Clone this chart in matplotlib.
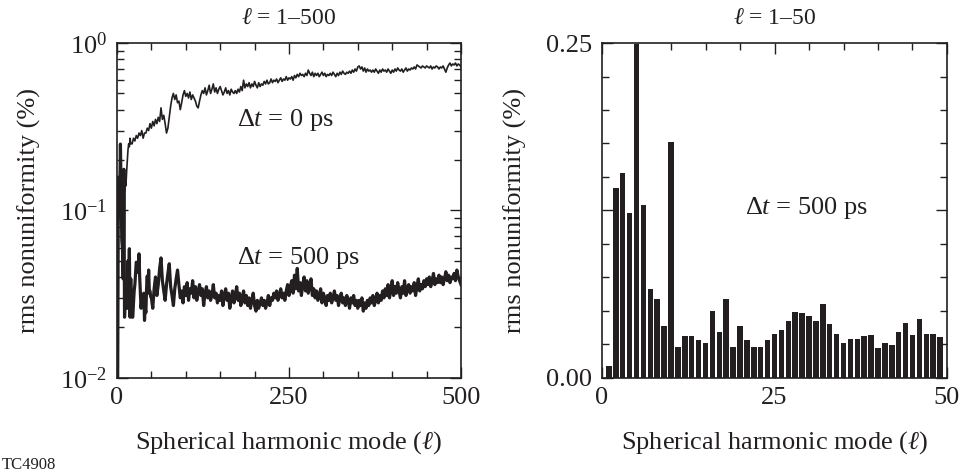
import numpy as np
import matplotlib
matplotlib.use("Agg")
import matplotlib.pyplot as plt
from matplotlib.ticker import MultipleLocator, FixedLocator, FixedFormatter

plt.rcParams['font.family'] = ['Liberation Serif', 'DejaVu Serif']
plt.rcParams['mathtext.fontset'] = 'custom'
plt.rcParams['mathtext.rm'] = 'Liberation Serif'
plt.rcParams['mathtext.it'] = 'Liberation Serif:italic'

INK = '#231f20'

# Delta t = 500 ps, modes l = 1..49 (also the first part of the left-hand curve)
bar_modes = list(range(1, 50))
rms_500_low = [0.009, 0.142, 0.153, 0.123, 0.249, 0.129, 0.066, 0.059, 0.039, 0.176,
               0.023, 0.031, 0.031, 0.028, 0.026, 0.050, 0.034, 0.059, 0.023, 0.039,
               0.028, 0.023, 0.023, 0.028, 0.033, 0.036, 0.042, 0.049, 0.0485, 0.046,
               0.0425, 0.055, 0.040, 0.0325, 0.026, 0.029, 0.029, 0.031, 0.032, 0.022,
               0.026, 0.0245, 0.034, 0.0405, 0.032, 0.044, 0.033, 0.033, 0.0305]

# Delta t = 500 ps, modes l = 50..500 every 2
rms_500_high = [0.030, 0.026, 0.034, 0.040, 0.031, 0.036, 0.045, 0.052, 0.038, 0.033,
                0.029, 0.036, 0.042, 0.048, 0.035, 0.031, 0.027, 0.034, 0.039, 0.044,
                0.036, 0.030, 0.033, 0.028, 0.035, 0.031, 0.037, 0.029, 0.034, 0.032,
                0.038, 0.030, 0.035, 0.029, 0.033, 0.036, 0.031, 0.034, 0.027, 0.032,
                0.035, 0.030, 0.033, 0.029, 0.031, 0.036, 0.030, 0.032, 0.028, 0.031,
                0.029, 0.033, 0.027, 0.031, 0.034, 0.029, 0.032, 0.026, 0.030, 0.033,
                0.028, 0.031, 0.035, 0.029, 0.032, 0.027, 0.030, 0.033, 0.028, 0.031,
                0.027, 0.030, 0.026, 0.029, 0.032, 0.027, 0.025, 0.029, 0.026, 0.028,
                0.030, 0.027, 0.029, 0.026, 0.028, 0.031, 0.027, 0.030, 0.029, 0.032,
                0.030, 0.033, 0.029, 0.031, 0.034, 0.030, 0.032, 0.029, 0.033, 0.036,
                0.031, 0.035, 0.038, 0.032, 0.041, 0.034, 0.045, 0.033, 0.037, 0.031,
                0.036, 0.040, 0.033, 0.038, 0.032, 0.035, 0.039, 0.031, 0.034, 0.030,
                0.033, 0.029, 0.031, 0.034, 0.028, 0.032, 0.030, 0.027, 0.031, 0.029,
                0.032, 0.028, 0.030, 0.033, 0.029, 0.031, 0.027, 0.030, 0.032, 0.028,
                0.030, 0.027, 0.031, 0.029, 0.026, 0.030, 0.028, 0.031, 0.027, 0.029,
                0.026, 0.029, 0.027, 0.030, 0.025, 0.028, 0.026, 0.029, 0.027, 0.030,
                0.028, 0.031, 0.027, 0.029, 0.032, 0.028, 0.031, 0.029, 0.033, 0.030,
                0.034, 0.031, 0.036, 0.030, 0.033, 0.038, 0.031, 0.035, 0.032, 0.037,
                0.033, 0.030, 0.035, 0.032, 0.038, 0.031, 0.034, 0.036, 0.032, 0.035,
                0.033, 0.037, 0.031, 0.035, 0.039, 0.033, 0.036, 0.034, 0.038, 0.035,
                0.039, 0.036, 0.040, 0.035, 0.038, 0.042, 0.036, 0.039, 0.037, 0.041,
                0.037, 0.040, 0.036, 0.039, 0.043, 0.038, 0.041, 0.037, 0.040, 0.039,
                0.042, 0.038, 0.044, 0.040, 0.038, 0.036]

# Delta t = 0 ps, modes l = 1..20, then 22..500 every 2
rms_0_low = [0.013, 0.16, 0.11, 0.15, 0.10, 0.17, 0.12, 0.14, 0.11, 0.15,
             0.13, 0.16, 0.14, 0.17, 0.20, 0.23, 0.25, 0.24, 0.27, 0.25]
rms_0_high = [0.25, 0.27, 0.26, 0.28, 0.27, 0.29, 0.28, 0.30, 0.27, 0.29,
              0.29, 0.31, 0.30, 0.33, 0.31, 0.34, 0.32, 0.35,
              0.33, 0.36, 0.34, 0.41, 0.35, 0.37, 0.33,
              0.29, 0.31, 0.36, 0.42, 0.47, 0.50, 0.46, 0.49, 0.44, 0.45,
              0.40, 0.44, 0.49, 0.52, 0.48, 0.50, 0.47, 0.51, 0.46, 0.49,
              0.47, 0.45, 0.42, 0.41, 0.45, 0.49, 0.52, 0.50, 0.54, 0.49,
              0.52, 0.56, 0.50, 0.53, 0.57, 0.51, 0.54, 0.50, 0.53, 0.55,
              0.52, 0.49, 0.51, 0.54, 0.50, 0.52, 0.49, 0.53, 0.51, 0.50,
              0.52, 0.50, 0.53, 0.51, 0.55, 0.52, 0.60, 0.54, 0.57, 0.55,
              0.58, 0.54, 0.57, 0.55, 0.59, 0.56, 0.54, 0.58, 0.55, 0.57,
              0.56, 0.59, 0.57, 0.60, 0.57, 0.58, 0.61, 0.58, 0.60, 0.59,
              0.61, 0.58, 0.60, 0.62, 0.59, 0.61, 0.60, 0.63, 0.60, 0.62,
              0.61, 0.63, 0.60, 0.64, 0.62, 0.65, 0.63, 0.66, 0.64, 0.65,
              0.63, 0.66, 0.64, 0.69, 0.66, 0.64, 0.67, 0.63, 0.66, 0.64,
              0.66, 0.63, 0.65, 0.67, 0.64, 0.66, 0.63, 0.65, 0.64, 0.66,
              0.64, 0.67, 0.65, 0.63, 0.66, 0.64, 0.67, 0.65, 0.68, 0.66,
              0.65, 0.67, 0.66, 0.68, 0.66, 0.69, 0.67, 0.70, 0.68, 0.72,
              0.73, 0.70, 0.72, 0.68, 0.71, 0.67, 0.70, 0.68, 0.69, 0.67,
              0.69, 0.67, 0.70, 0.68, 0.66, 0.69, 0.67, 0.70, 0.68, 0.69,
              0.67, 0.70, 0.68, 0.66, 0.69, 0.67, 0.70, 0.68, 0.71, 0.69,
              0.68, 0.70, 0.67, 0.69, 0.71, 0.68, 0.70, 0.69, 0.71, 0.70,
              0.72, 0.70, 0.74, 0.73, 0.72, 0.71, 0.73, 0.72, 0.71, 0.73,
              0.72, 0.71, 0.73, 0.70, 0.72, 0.71, 0.73, 0.72, 0.70, 0.72,
              0.71, 0.73, 0.70, 0.67, 0.71, 0.74, 0.76, 0.73, 0.75, 0.74,
              0.76, 0.73, 0.75, 0.74, 0.72]

l_500 = np.concatenate([bar_modes, np.arange(50, 501, 2)])
v_500 = np.array(rms_500_low + rms_500_high)
l_0 = np.concatenate([np.arange(1, 21), np.arange(22, 501, 2)])
v_0 = np.array(rms_0_low + rms_0_high)

TICK_FS = 19
LABEL_FS = 19


def style_axes(ax):
    ax.tick_params(which='both', direction='in', top=True, right=True,
                   labelsize=TICK_FS, colors=INK, width=1.0, pad=7)
    ax.tick_params(which='major', length=8)
    ax.tick_params(which='minor', length=5)
    for s in ax.spines.values():
        s.set_linewidth(1.2)
        s.set_color(INK)


fig = plt.figure(figsize=(9.62, 4.76), dpi=100)

# left: log plot
ax1 = fig.add_axes([0.1216, 0.2065, 0.3576, 0.703])
ax1.plot(l_0, v_0, color=INK, lw=1.2)
ax1.plot(l_500, v_500, color=INK, lw=2.3)
ax1.set_yscale('log')
ax1.set_xlim(0, 500)
ax1.set_ylim(0.01, 1.0)
ax1.xaxis.set_major_locator(MultipleLocator(250))
ax1.xaxis.set_minor_locator(MultipleLocator(50))
style_axes(ax1)
ax1.set_title(r'$\ell$ = 1–500', fontsize=17, pad=14, color=INK)
ax1.set_xlabel(r'Spherical harmonic mode ($\ell$)', fontsize=LABEL_FS, labelpad=14, color=INK)
ax1.set_ylabel('rms nonuniformity (%)', fontsize=LABEL_FS, labelpad=14, color=INK)
ax1.text(175, 0.346, r'Δ$t$ = 0 ps', fontsize=19, va='center', color=INK)
ax1.text(175, 0.0516, r'Δ$t$ = 500 ps', fontsize=19, va='center', color=INK)

# right: bar chart of low modes
ax2 = fig.add_axes([0.6258, 0.2065, 0.3586, 0.703])
ax2.bar(bar_modes, rms_500_low, width=0.8, color=INK, edgecolor='none')
ax2.set_xlim(0, 50)
ax2.set_ylim(0, 0.25)
ax2.xaxis.set_major_locator(MultipleLocator(25))
ax2.xaxis.set_minor_locator(MultipleLocator(5))
ax2.yaxis.set_major_locator(FixedLocator([0.0, 0.125, 0.25]))
ax2.yaxis.set_major_formatter(FixedFormatter(['0.00', '', '0.25']))
ax2.yaxis.set_minor_locator(MultipleLocator(0.025))
style_axes(ax2)
ax2.set_title(r'$\ell$ = 1–50', fontsize=17, pad=14, color=INK)
ax2.set_xlabel(r'Spherical harmonic mode ($\ell$)', fontsize=LABEL_FS, labelpad=14, color=INK)
ax2.set_ylabel('rms nonuniformity (%)', fontsize=LABEL_FS, labelpad=14, color=INK)
ax2.text(20.7, 0.1265, r'Δ$t$ = 500 ps', fontsize=19, va='center', color=INK)

fig.text(0.002, 0.015, 'TC4908', fontsize=12, color=INK)

fig.savefig('out.png', dpi=100)
